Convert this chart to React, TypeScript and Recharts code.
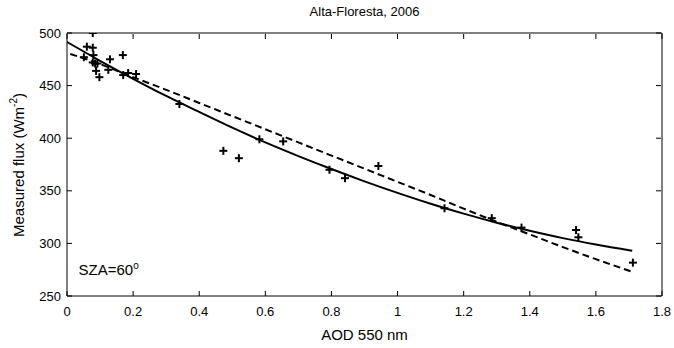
import React from 'react';
import { ComposedChart, XAxis, YAxis, Line, Scatter, ReferenceDot } from 'recharts';

const aod = [0.078, 0.060, 0.078, 0.051, 0.080, 0.078, 0.085, 0.092, 0.088, 0.098, 0.130, 0.125, 0.169, 0.170, 0.185, 0.209, 0.340, 0.473, 0.520, 0.582, 0.654, 0.794, 0.841, 0.942, 1.142, 1.285, 1.375, 1.540, 1.547, 1.712];
const flux = [500, 487, 486, 477, 479, 472, 471, 471, 464, 458, 475, 465, 479, 460, 462, 461, 432.5, 388, 381, 399, 397, 370, 362, 373.6, 333.4, 324, 315, 312.7, 305.8, 281.7];

const fitAod = [0, 0.1, 0.2, 0.3, 0.4, 0.5, 0.6, 0.7, 0.8, 0.9, 1.0, 1.1, 1.2, 1.3, 1.4, 1.5, 1.6, 1.71];
const solidFit = [491.5, 473.6, 456.5, 440.2, 425, 410, 396, 383, 370.7, 359, 348, 337.7, 328.3, 319.7, 312, 305, 298.9, 293];
const dashAod = [0.01, 0.05, 0.1, 0.2, 0.3, 0.4, 0.5, 0.6, 0.7, 0.8, 0.9, 1.0, 1.1, 1.2, 1.3, 1.4, 1.5, 1.6, 1.71];
const dashedFit = [480, 476, 470.5, 458, 446, 433.5, 421, 408.5, 396, 383.5, 371, 358.5, 346, 333, 320.5, 308.5, 296.5, 285, 273];

const xTicks = [0, 0.2, 0.4, 0.6, 0.8, 1, 1.2, 1.4, 1.6, 1.8];
const yTicks = [250, 300, 350, 400, 450, 500];

const title = 'Alta-Floresta, 2006';
const xLabel = 'AOD 550 nm';

const points = aod.map((a, i) => ({ x: a, y: flux[i] }));
const solidData = fitAod.map((a, i) => ({ x: a, y: solidFit[i] }));
const dashedData = dashAod.map((a, i) => ({ x: a, y: dashedFit[i] }));

const FONT = '"Liberation Sans", Arial, sans-serif';

const renderBottomTick = (p: any) => {
  const { x, y, payload } = p;
  return (
    <g key={'b' + payload.value}>
      <line x1={x} x2={x} y1={y - 11} y2={y - 16} stroke="#000" strokeWidth={1} />
      <text x={x} y={y} dy="0.71em" textAnchor="middle" fontSize={13} fontFamily={FONT} fill="#000">
        {String(payload.value)}
      </text>
    </g>
  );
};
const renderLeftTick = (p: any) => {
  const { x, y, payload } = p;
  return (
    <g key={'l' + payload.value}>
      <line x1={x + 6} x2={x + 11} y1={y} y2={y} stroke="#000" strokeWidth={1} />
      <text x={x} y={y} dy="0.355em" textAnchor="end" fontSize={13} fontFamily={FONT} fill="#000">
        {String(payload.value)}
      </text>
    </g>
  );
};
const renderTopTick = (p: any) => {
  const { x, y, payload } = p;
  return <line key={'t' + payload.value} x1={x} x2={x} y1={y + 1} y2={y + 6} stroke="#000" strokeWidth={1} />;
};
const renderRightTick = (p: any) => {
  const { x, y, payload } = p;
  return <line key={'r' + payload.value} x1={x - 1} x2={x - 6} y1={y} y2={y} stroke="#000" strokeWidth={1} />;
};

const Plus = (p: any) => {
  const { cx, cy } = p;
  if (cx == null || cy == null) return null;
  return (
    <g>
      <line x1={cx - 4} x2={cx + 4} y1={cy} y2={cy} stroke="#000" strokeWidth={2} />
      <line x1={cx} x2={cx} y1={cy - 4} y2={cy + 4} stroke="#000" strokeWidth={2} />
    </g>
  );
};

const SzaLabel = (p: any) => {
  const vb = p.viewBox || {};
  const x = vb.x ?? 0;
  const y = vb.y ?? 0;
  return (
    <text x={x} y={y} dy="0.355em" fontSize={15} fontFamily={FONT} fill="#000">
      SZA=60<tspan dy={-6} fontSize={10}>o</tspan>
    </text>
  );
};

export default function App() {
  return (
    <div style={{ position: 'absolute', left: 0, top: 0, width: 674, height: 348, background: '#fff' }}>
      <div style={{ position: 'absolute', left: 0, width: 729, top: 4, textAlign: 'center', fontFamily: FONT, fontSize: 13, color: '#000' }}>
        {title}
      </div>
      <div style={{ position: 'absolute', left: 0, width: 729, top: 326, textAlign: 'center', fontFamily: FONT, fontSize: 15, color: '#000' }}>
        {xLabel}
      </div>
      <div
        style={{
          position: 'absolute',
          left: 18,
          top: 165,
          transform: 'translate(-50%, -50%) rotate(-90deg)',
          whiteSpace: 'nowrap',
          fontFamily: FONT,
          fontSize: 15,
          color: '#000',
        }}
      >
        Measured flux (Wm<sup style={{ fontSize: 10, verticalAlign: 'top', position: 'relative', top: -2 }}>-2</sup>)
      </div>
      <ComposedChart width={674} height={348} margin={{ top: 32, right: 11, bottom: 0, left: 0 }} style={{ position: 'absolute', left: 0, top: 0 }}>
        <XAxis
          xAxisId={0}
          type="number"
          dataKey="x"
          domain={[0, 1.8]}
          ticks={xTicks}
          allowDataOverflow
          height={52}
          tickSize={0}
          tickMargin={11}
          tick={renderBottomTick}
          axisLine={{ stroke: '#000' }}
          interval={0}
        />
        <XAxis
          xAxisId="top"
          orientation="top"
          type="number"
          dataKey="x"
          domain={[0, 1.8]}
          ticks={xTicks}
          allowDataOverflow
          height={1}
          tickSize={0}
          tickMargin={0}
          tick={renderTopTick}
          axisLine={{ stroke: '#000' }}
          interval={0}
        />
        <YAxis
          yAxisId={0}
          type="number"
          dataKey="y"
          domain={[250, 500]}
          ticks={yTicks}
          allowDataOverflow
          width={67}
          tickSize={0}
          tickMargin={6}
          tick={renderLeftTick}
          axisLine={{ stroke: '#000' }}
          interval={0}
        />
        <YAxis
          yAxisId="right"
          orientation="right"
          type="number"
          dataKey="y"
          domain={[250, 500]}
          ticks={yTicks}
          allowDataOverflow
          width={1}
          tickSize={0}
          tickMargin={0}
          tick={renderRightTick}
          axisLine={{ stroke: '#000' }}
          interval={0}
        />
        <Line data={dashedData} dataKey="y" type="monotone" stroke="#000" strokeWidth={2} strokeDasharray="7 4" dot={false} isAnimationActive={false} />
        <Line data={solidData} dataKey="y" type="monotone" stroke="#000" strokeWidth={2} dot={false} isAnimationActive={false} />
        <Line data={solidData} dataKey="y" xAxisId="top" yAxisId="right" stroke="none" dot={false} isAnimationActive={false} />
        <Scatter data={points} dataKey="y" shape={<Plus />} isAnimationActive={false} />
        <ReferenceDot x={0.035} y={275} r={0} fill="none" stroke="none" label={<SzaLabel />} />
      </ComposedChart>
    </div>
  );
}
